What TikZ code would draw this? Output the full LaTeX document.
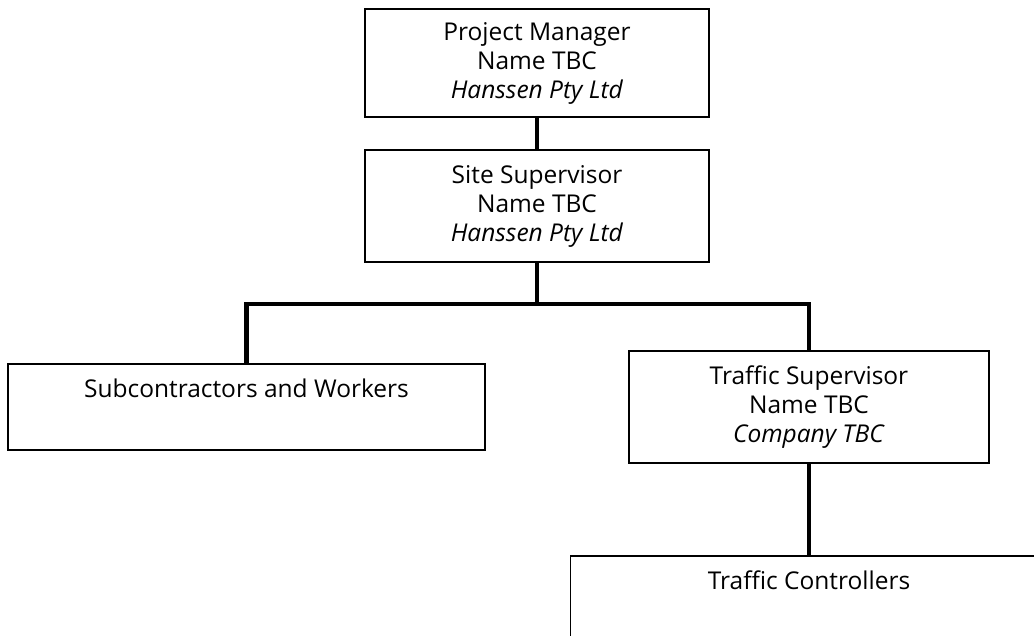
\documentclass[tikz,border=0pt]{standalone}
\usepackage{fontspec}
\setmainfont{Open Sans}
\usetikzlibrary{positioning}
\begin{document}
\begin{tikzpicture}[x=1pt,y=-1pt,line width=1.6pt,
  box/.style={draw,align=center,inner sep=0pt,minimum width=#1,font=\fontsize{24.5}{29}\selectfont},
  topbox/.style={box=#1,anchor=north,text height=34pt,text depth=52pt},
  link/.style={line width=4.5pt}]
\clip (0,0) rectangle (1034,635);
\node[box=344pt,minimum height=108pt] (pm) at (537,63) {Project Manager\\Name TBC\\\textit{Hanssen Pty Ltd}};
\node[box=344pt,minimum height=112pt] (ss) at (537,206) {Site Supervisor\\Name TBC\\\textit{Hanssen Pty Ltd}};
\node[topbox=477pt] (sw) at (246.5,363) {Subcontractors and Workers};
\node[box=360pt,minimum height=112pt] (ts) at (809,407) {Traffic Supervisor\\Name TBC\\\textit{Company TBC}};
\node[topbox=477pt] (tc) at (809,555) {Traffic Controllers};
% connectors
\draw[link] (pm) -- (ss);
\draw[link] (ss.south) -- ++(0,41) coordinate (bus);
\draw[link] (sw.north) |- (bus) -| (ts.north);
\draw[link] (ts) -- (tc);
\end{tikzpicture}
\end{document}
